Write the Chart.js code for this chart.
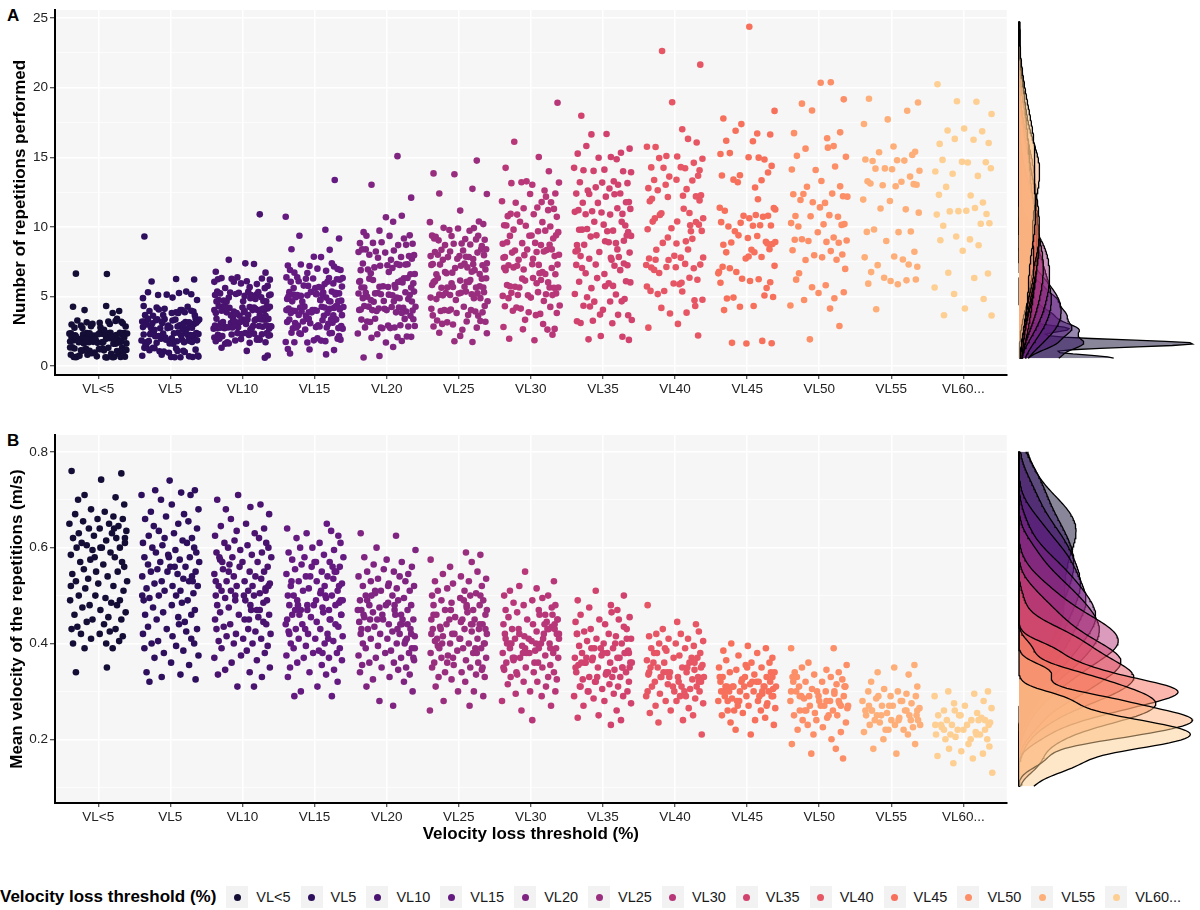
<!DOCTYPE html>
<html>
<head>
<meta charset="utf-8">
<script src="https://cdn.jsdelivr.net/npm/chart.js@4.4.1/dist/chart.umd.min.js"></script>
<style>
  body { margin: 0; background: #fff; width: 1200px; height: 910px; position: relative; overflow: hidden;
         font-family: "Liberation Sans", Arial, sans-serif; color: #1a1a1a; }
  canvas { position: absolute; }
  .tag { position: absolute; left: 7px; font-weight: bold; font-size: 17px; line-height: 17px; color: #000; }
  #legend { position: absolute; left: 0; top: 886px; height: 22px; width: 1300px; display: flex; align-items: center;
            font-size: 14.5px; white-space: nowrap; }
  #legend > * { flex-shrink: 0; }
  #legend .lt { font-weight: bold; font-size: 17px; color: #000; margin-right: 10px; }
  #legend .box { width: 22px; height: 22px; background: #f2f2f2; display: flex; align-items: center; justify-content: center; }
  #legend .dot { width: 7px; height: 7px; border-radius: 50%; }
  #legend .lab { margin-left: 8px; margin-right: 10px; }
</style>
</head>
<body>
<div class="tag" style="top:7px">A</div>
<div class="tag" style="top:432px">B</div>
<canvas id="repsChart" width="1010" height="400" style="left:0;top:0"></canvas>
<canvas id="repsDensity" width="188" height="400" style="left:1012px;top:0"></canvas>
<canvas id="velChart" width="1010" height="420" style="left:0;top:425px"></canvas>
<canvas id="velDensity" width="188" height="420" style="left:1012px;top:425px"></canvas>
<div id="legend"><span class="lt">Velocity loss threshold (%)</span></div>

<script>
const categories = ['VL<5', 'VL5', 'VL10', 'VL15', 'VL20', 'VL25', 'VL30', 'VL35', 'VL40', 'VL45', 'VL50', 'VL55', 'VL60...'];
const palette = ['#140E36', '#2E0F5D', '#49136F', '#641A80', '#7F2481', '#9A2E7E', '#B73779',
                 '#D1436E', '#E65664', '#F7705C', '#FC8F67', '#FEAF79', '#FECF92'];
const repsTicks = [0, 5, 10, 15, 20, 25];
const velTicks = [0.2, 0.4, 0.6, 0.8];

// jitter offsets (category units horizontally, reps vertically)
const jitter = [0.12,-0.31,0.37,-0.05,0.22,-0.38,0.03,0.29,-0.17,0.33,-0.26,0.08,-0.36,0.18,-0.09,0.39,-0.22,0.01,0.26,-0.33,
  0.14,-0.12,0.35,-0.29,0.06,0.31,-0.02,-0.39,0.2,-0.15,0.38,-0.24,0.1,-0.34,0.27,-0.07,0.16,-0.37,0.32,0.04,
  -0.19,0.24,-0.28,0.36,-0.1,0.09,-0.32,0.21,-0.01,0.34,-0.21,0.15,-0.4,0.28,-0.13,0.02,0.39,-0.27,0.19,-0.06,
  -0.35,0.25,0.11,-0.23,0.37,-0.16,0.05,-0.3,0.3,-0.08,0.17,-0.38,0.23,-0.11,0.33,-0.25,0.07,0.36,-0.2,-0.03,
  0.27,-0.36,0.13,-0.14,0.4,-0.31,0.0,0.21,-0.18,0.35,-0.04,-0.27,0.1,0.3,-0.39,0.18,-0.12,0.26,-0.22,0.03,
  0.38,-0.33,0.14,-0.08,0.32,-0.16,0.08,-0.29,0.24,-0.37,0.16,0.02,-0.24,0.34,-0.1,0.29,-0.35,0.11,-0.19,0.2];

// Panel A: number of repetitions performed (whole reps per set)
const repsVLlt5 = [1,1,1,1,1,1,1,1,1,1,1,1,1,1,1,1,1,1,1,1,1,1,1,1,1,1,1,1,1,1,1,1,1,1,
  2,2,2,2,2,2,2,2,2,2,2,2,2,2,2,2,2,2,2,2,2,2,2,2,2,2,2,2,2,2,2,2,2,2,2,
  2,2,2,2,2,2,2,2,2,2,2,2,2,2,2,2,2,2,2,2,2,2,2,2,2,2,2,2,
  3,3,3,3,3,3,3,3,3,3,3,3,3,3,3,3,3,3,4,4,4,4,4,7,7];
const repsVL5 = [1,1,1,1,1,1,1,1,1,1,1,1,1,1,1,1,1,1,1,1,1,1,
  2,2,2,2,2,2,2,2,2,2,2,2,2,2,2,2,2,2,2,2,2,2,2,2,2,2,2,2,2,2,2,2,2,2,2,2,
  3,3,3,3,3,3,3,3,3,3,3,3,3,3,3,3,3,3,3,3,3,3,3,3,3,3,3,3,3,3,3,3,3,
  4,4,4,4,4,4,4,4,4,4,4,4,4,4,4,4,4,4,5,5,5,5,5,5,5,5,5,6,6,6,9];
const repsVL10 = [1,1,1,1,2,2,2,2,2,2,2,2,2,2,2,2,2,2,2,2,2,2,2,2,2,2,2,2,2,
  3,3,3,3,3,3,3,3,3,3,3,3,3,3,3,3,3,3,3,3,3,3,3,3,3,3,3,3,3,3,3,3,3,3,3,
  4,4,4,4,4,4,4,4,4,4,4,4,4,4,4,4,4,4,4,4,4,4,4,4,4,4,4,4,4,4,
  5,5,5,5,5,5,5,5,5,5,5,5,5,5,5,5,5,5,5,5,5,5,5,5,5,
  6,6,6,6,6,6,6,6,6,6,6,6,6,6,6,7,7,7,7,8,11];
const repsVL15 = [1,1,1,1,1,2,2,2,2,2,2,2,2,2,2,2,2,2,2,2,
  3,3,3,3,3,3,3,3,3,3,3,3,3,3,3,3,3,3,3,3,3,3,3,3,3,
  4,4,4,4,4,4,4,4,4,4,4,4,4,4,4,4,4,4,4,4,4,4,4,4,4,4,4,4,
  5,5,5,5,5,5,5,5,5,5,5,5,5,5,5,5,5,5,5,5,5,5,5,5,5,5,5,
  6,6,6,6,6,6,6,6,6,6,6,6,6,6,6,6,6,6,6,6,7,7,7,7,7,7,7,7,7,7,7,7,
  8,8,8,8,9,9,10,11,13];
const repsVL20 = [1,1,1,2,2,2,2,2,2,2,2,3,3,3,3,3,3,3,3,3,3,3,3,3,3,3,
  4,4,4,4,4,4,4,4,4,4,4,4,4,4,4,4,4,4,5,5,5,5,5,5,5,5,5,5,5,5,5,5,5,5,5,5,5,5,
  6,6,6,6,6,6,6,6,6,6,6,6,6,6,6,6,6,6,7,7,7,7,7,7,7,7,7,7,7,7,7,7,7,
  8,8,8,8,8,8,8,8,8,8,8,8,8,9,9,9,9,9,9,9,9,9,9,10,10,10,11,11,12,13,15];
const repsVL25 = [2,2,2,2,2,3,3,3,3,3,3,3,3,3,3,4,4,4,4,4,4,4,4,4,4,4,4,4,4,
  5,5,5,5,5,5,5,5,5,5,5,5,5,5,5,5,6,6,6,6,6,6,6,6,6,6,6,6,6,6,6,6,6,6,
  7,7,7,7,7,7,7,7,7,7,7,7,7,7,7,7,7,7,8,8,8,8,8,8,8,8,8,8,8,8,8,8,8,8,8,
  9,9,9,9,9,9,9,9,9,9,9,9,9,9,10,10,10,10,10,10,10,10,11,12,12,13,14,14,15];
const repsVL30 = [2,2,2,3,3,3,3,3,3,4,4,4,4,4,4,4,4,4,4,5,5,5,5,5,5,5,5,5,5,5,
  6,6,6,6,6,6,6,6,6,6,6,6,6,7,7,7,7,7,7,7,7,7,7,7,7,7,7,8,8,8,8,8,8,8,8,8,8,8,8,8,8,
  9,9,9,9,9,9,9,9,9,9,9,10,10,10,10,10,10,10,10,10,10,11,11,11,11,11,11,11,11,11,
  12,12,12,12,12,12,12,13,13,13,13,13,13,14,14,15,16,19];
const repsVL35 = [2,2,2,2,3,3,3,3,3,4,4,4,4,4,4,5,5,5,5,5,5,5,6,6,6,6,6,6,6,6,
  7,7,7,7,7,7,7,7,7,8,8,8,8,8,8,8,8,8,8,9,9,9,9,9,9,9,9,9,9,10,10,10,10,10,10,10,10,10,10,
  11,11,11,11,11,11,11,11,11,12,12,12,12,12,12,12,12,12,13,13,13,13,13,13,13,13,
  14,14,14,14,14,14,15,15,15,15,15,16,16,17,17,18];
const repsVL40 = [23,22,19,16,17,16,16,16,15,15,15,15,15,14,14,14,14,14,14,13,13,13,13,13,13,12,12,12,12,12,
  11,11,11,10,10,10,10,10,10,10,9,10,8,8,8,8,8,8,7,7,7,7,7,7,7,7,6,6,6,6,
  6,5,5,5,5,5,5,4,4,3,2,3,4,9,11,12,9,6,12,10,8,14,11,9,7,4,13,9,11,8];
const repsVL45 = [24,18,18,17,17,17,17,16,16,15,15,15,15,15,14,14,14,14,13,13,13,11,11,11,11,11,11,11,11,10,
  10,10,10,10,10,10,9,9,9,9,9,9,9,9,8,8,8,8,7,8,7,7,7,8,7,6,6,6,6,6,
  6,5,5,5,5,4,4,4,2,2,2,2,12,7,9,13,8,11];
const repsVL50 = [20,20,19,19,18,17,17,16,16,16,16,15,15,14,14,14,13,13,13,12,12,12,12,12,12,12,12,11,11,11,
  11,11,10,10,10,10,10,10,9,9,9,9,9,9,9,8,8,8,8,8,8,8,7,7,6,6,6,5,5,5,
  5,4,4,3,2];
const repsVL55 = [19,19,18,18,17,16,15,15,15,15,15,15,15,14,14,14,14,14,13,13,13,13,13,13,13,12,12,11,11,11,
  10,10,10,10,9,8,8,8,8,7,7,7,7,6,6,6,6,6,6,4];
const repsVL60 = [20,19,19,18,17,17,17,16,16,16,16,15,15,15,15,14,14,14,14,13,12,12,12,11,11,11,11,11,11,10,
  10,10,9,9,9,9,8,7,7,6,6,5,5,4,4,4];

// Panel B: mean velocity of the repetitions (m/s)
const velVLlt5 = [0.76,0.755,0.742,0.71,0.705,0.70,0.69,0.68,0.675,0.67,0.665,0.66,0.66,0.655,0.65,0.65,0.645,0.64,0.64,0.635,0.63,0.63,0.625,0.62,0.62,0.615,0.61,0.61,0.605,0.60,
  0.60,0.60,0.595,0.59,0.585,0.58,0.575,0.57,0.57,0.565,0.56,0.555,0.55,0.55,0.545,0.54,0.535,0.53,0.53,0.525,0.52,0.515,0.51,0.50,0.50,0.495,0.49,0.49,0.485,0.48,
  0.48,0.475,0.47,0.465,0.46,0.455,0.45,0.45,0.445,0.44,0.435,0.43,0.43,0.425,0.42,0.42,0.415,0.41,0.405,0.40,0.40,0.39,0.39,0.35,0.34,0.62,0.58,0.64,0.52,0.60];
const velVL5 = [0.74,0.72,0.72,0.715,0.71,0.71,0.70,0.69,0.68,0.675,0.67,0.665,0.66,0.655,0.65,0.645,0.64,0.635,0.63,0.625,0.62,0.62,0.615,0.61,0.61,0.605,0.60,0.60,0.595,0.59,
  0.59,0.585,0.58,0.58,0.575,0.57,0.57,0.565,0.56,0.56,0.555,0.55,0.55,0.55,0.545,0.54,0.54,0.535,0.53,0.53,0.525,0.52,0.52,0.515,0.51,0.51,0.505,0.50,0.50,0.495,
  0.49,0.49,0.485,0.48,0.475,0.47,0.465,0.46,0.46,0.455,0.45,0.445,0.44,0.435,0.43,0.43,0.425,0.42,0.415,0.41,0.405,0.40,0.40,0.395,0.39,0.385,0.38,0.375,0.37,0.36,
  0.355,0.34,0.335,0.33,0.325,0.32,0.56,0.53,0.58,0.50];
const velVL10 = [0.71,0.70,0.69,0.685,0.68,0.67,0.66,0.65,0.645,0.64,0.635,0.63,0.625,0.62,0.615,0.61,0.61,0.605,0.60,0.60,0.595,0.59,0.59,0.585,0.58,0.58,0.575,0.57,0.57,0.565,
  0.56,0.56,0.555,0.55,0.55,0.545,0.54,0.54,0.535,0.53,0.53,0.525,0.52,0.52,0.52,0.515,0.51,0.51,0.51,0.505,0.50,0.50,0.50,0.495,0.49,0.49,0.485,0.48,0.48,0.475,
  0.47,0.47,0.465,0.46,0.46,0.455,0.45,0.45,0.445,0.44,0.44,0.435,0.43,0.43,0.425,0.42,0.42,0.415,0.41,0.41,0.405,0.40,0.40,0.395,0.39,0.385,0.38,0.375,0.37,0.365,
  0.36,0.35,0.345,0.34,0.335,0.33,0.31,0.31,0.53,0.51,0.49,0.55,0.47,0.57,0.52,0.50,0.45,0.58];
const velVL15 = [0.65,0.64,0.635,0.63,0.625,0.62,0.61,0.61,0.60,0.60,0.595,0.59,0.585,0.58,0.58,0.575,0.57,0.57,0.565,0.56,0.56,0.555,0.55,0.55,0.545,0.54,0.54,0.535,0.53,0.53,
  0.525,0.52,0.52,0.515,0.51,0.51,0.505,0.50,0.50,0.50,0.495,0.49,0.49,0.485,0.48,0.48,0.48,0.475,0.47,0.47,0.465,0.46,0.46,0.455,0.45,0.45,0.445,0.44,0.44,0.435,
  0.43,0.43,0.425,0.42,0.42,0.415,0.41,0.41,0.405,0.40,0.40,0.395,0.39,0.39,0.385,0.38,0.38,0.375,0.37,0.37,0.365,0.36,0.355,0.35,0.345,0.34,0.335,0.33,0.32,0.31,
  0.30,0.29,0.29,0.49,0.47,0.51,0.53,0.45,0.48,0.52,0.46,0.50,0.44,0.55,0.43,0.57,0.49,0.47,0.41,0.54,0.42,0.56,0.38,0.48,0.46];
const velVL20 = [0.63,0.625,0.60,0.595,0.58,0.575,0.57,0.565,0.56,0.555,0.55,0.55,0.545,0.54,0.54,0.535,0.53,0.53,0.525,0.52,0.52,0.515,0.51,0.51,0.505,0.50,0.50,0.495,0.49,0.49,
  0.485,0.48,0.48,0.475,0.47,0.47,0.47,0.465,0.46,0.46,0.455,0.45,0.45,0.45,0.445,0.44,0.44,0.435,0.43,0.43,0.425,0.42,0.42,0.42,0.415,0.41,0.41,0.405,0.40,0.40,
  0.395,0.39,0.39,0.385,0.38,0.38,0.375,0.37,0.37,0.365,0.36,0.36,0.355,0.35,0.35,0.345,0.34,0.335,0.33,0.325,0.32,0.31,0.30,0.28,0.27,0.46,0.44,0.48,0.42,0.50,
  0.43,0.47,0.41,0.45,0.52,0.39,0.49,0.44,0.46,0.43,0.40,0.48,0.45,0.37,0.51];
const velVL25 = [0.59,0.585,0.575,0.57,0.56,0.55,0.545,0.54,0.535,0.53,0.53,0.525,0.52,0.515,0.51,0.51,0.505,0.50,0.50,0.495,0.49,0.49,0.485,0.48,0.48,0.475,0.47,0.47,0.465,0.46,
  0.46,0.455,0.45,0.45,0.445,0.44,0.44,0.44,0.435,0.43,0.43,0.425,0.42,0.42,0.415,0.41,0.41,0.405,0.40,0.40,0.40,0.395,0.39,0.39,0.385,0.38,0.38,0.375,0.37,0.37,
  0.365,0.36,0.36,0.355,0.35,0.35,0.345,0.34,0.34,0.335,0.33,0.33,0.325,0.32,0.31,0.30,0.30,0.29,0.28,0.27,0.26,0.43,0.45,0.41,0.47,0.39,0.44,0.42,0.46,0.38,
  0.48,0.40,0.43,0.36,0.45,0.41,0.50,0.37,0.44,0.42,0.39,0.47,0.35,0.43,0.49,0.40];
const velVL30 = [0.55,0.53,0.52,0.515,0.51,0.50,0.50,0.495,0.49,0.485,0.48,0.48,0.475,0.47,0.47,0.465,0.46,0.46,0.455,0.45,0.45,0.445,0.44,0.44,0.435,0.43,0.43,0.43,0.425,0.42,
  0.42,0.415,0.41,0.41,0.405,0.40,0.40,0.40,0.395,0.39,0.39,0.385,0.38,0.38,0.38,0.375,0.37,0.37,0.365,0.36,0.36,0.355,0.35,0.35,0.345,0.34,0.34,0.335,0.33,0.33,
  0.325,0.32,0.32,0.315,0.31,0.30,0.30,0.295,0.29,0.28,0.27,0.26,0.24,0.42,0.40,0.44,0.38,0.41,0.43,0.39,0.37,0.45,0.42,0.36,0.40,0.46,0.39,0.41,0.35,0.43,
  0.38,0.44,0.37,0.40,0.42,0.34,0.41,0.39];
const velVL35 = [0.51,0.50,0.49,0.48,0.475,0.47,0.465,0.46,0.455,0.45,0.45,0.445,0.44,0.435,0.43,0.43,0.425,0.42,0.42,0.415,0.41,0.41,0.405,0.40,0.40,0.395,0.39,0.39,0.385,0.38,
  0.38,0.38,0.375,0.37,0.37,0.365,0.36,0.36,0.36,0.355,0.35,0.35,0.345,0.34,0.34,0.335,0.33,0.33,0.325,0.32,0.32,0.315,0.31,0.31,0.305,0.30,0.30,0.295,0.29,0.29,
  0.285,0.28,0.275,0.27,0.26,0.25,0.245,0.24,0.23,0.37,0.35,0.39,0.34,0.36,0.38,0.33,0.40,0.35,0.37,0.32,0.41,0.36,0.34,0.38,0.30,0.39,0.35,0.42,0.33,0.37,
  0.36,0.31,0.38];
const velVL40 = [0.48,0.445,0.44,0.43,0.425,0.42,0.42,0.415,0.41,0.41,0.405,0.40,0.40,0.395,0.39,0.39,0.385,0.38,0.38,0.375,0.37,0.37,0.365,0.36,0.36,0.355,0.35,0.35,0.35,0.345,
  0.34,0.34,0.335,0.33,0.33,0.33,0.325,0.32,0.32,0.315,0.31,0.31,0.305,0.30,0.30,0.295,0.29,0.29,0.285,0.28,0.28,0.275,0.27,0.265,0.26,0.255,0.25,0.24,0.235,0.21,
  0.34,0.32,0.36,0.31,0.33,0.35,0.30,0.37,0.34,0.32,0.38,0.29,0.35,0.33,0.31,0.36,0.34,0.30,0.39,0.33];
const velVL45 = [0.40,0.395,0.39,0.385,0.38,0.375,0.37,0.365,0.36,0.36,0.355,0.35,0.35,0.345,0.34,0.34,0.335,0.33,0.33,0.325,0.32,0.32,0.32,0.315,0.31,0.31,0.31,0.305,0.30,0.30,
  0.30,0.295,0.29,0.29,0.285,0.28,0.28,0.275,0.27,0.27,0.265,0.26,0.26,0.255,0.25,0.245,0.24,0.235,0.23,0.22,0.21,0.31,0.30,0.32,0.29,0.33,0.31,0.28,0.34,0.30,
  0.32,0.29,0.31,0.33,0.27,0.30,0.32,0.28,0.31,0.29,0.35,0.30,0.26,0.33,0.31,0.28];
const velVL50 = [0.39,0.39,0.36,0.355,0.35,0.345,0.34,0.34,0.335,0.33,0.33,0.325,0.32,0.32,0.315,0.31,0.31,0.305,0.30,0.30,0.295,0.29,0.29,0.285,0.28,0.28,0.275,0.27,0.27,0.265,
  0.26,0.26,0.255,0.25,0.25,0.245,0.24,0.235,0.23,0.225,0.22,0.215,0.21,0.20,0.19,0.18,0.17,0.16,0.29,0.27,0.31,0.26,0.30,0.28,0.32,0.25,0.29,0.27,0.33,0.28,
  0.30,0.26,0.31,0.24,0.29,0.28,0.27,0.30];
const velVL55 = [0.355,0.35,0.34,0.335,0.32,0.31,0.305,0.30,0.30,0.295,0.29,0.29,0.285,0.28,0.28,0.275,0.27,0.27,0.265,0.26,0.26,0.255,0.25,0.25,0.245,0.24,0.24,0.235,0.23,0.23,
  0.225,0.22,0.22,0.215,0.21,0.20,0.19,0.18,0.17,0.26,0.25,0.27,0.24,0.26,0.28,0.25,0.23,0.27,0.24,0.26,0.29,0.25,0.22,0.26,0.24];
const velVL60 = [0.30,0.30,0.295,0.29,0.28,0.275,0.27,0.265,0.26,0.255,0.25,0.25,0.245,0.24,0.24,0.235,0.23,0.23,0.225,0.22,0.22,0.215,0.21,0.21,0.205,0.20,0.20,0.19,0.185,0.18,
  0.175,0.17,0.165,0.16,0.15,0.13,0.23,0.22,0.24,0.21,0.23,0.25,0.22,0.20,0.24,0.23,0.21,0.26];

const repsGroups = [repsVLlt5, repsVL5, repsVL10, repsVL15, repsVL20, repsVL25, repsVL30, repsVL35, repsVL40, repsVL45, repsVL50, repsVL55, repsVL60];
const velGroups = [velVLlt5, velVL5, velVL10, velVL15, velVL20, velVL25, velVL30, velVL35, velVL40, velVL45, velVL50, velVL55, velVL60];

const FONT = '"Liberation Sans", Arial, sans-serif';
Chart.defaults.font.family = FONT;
Chart.defaults.color = '#222';

const panelBg = {
  id: 'panelBg',
  beforeDraw(chart) {
    const a = chart.chartArea, ctx = chart.ctx;
    ctx.save();
    ctx.fillStyle = '#f6f6f6';
    ctx.fillRect(a.left, a.top, a.right - a.left, a.bottom - a.top);
    ctx.restore();
  }
};

// jittered points: x always, y only for whole-number reps
function scatterSets(groups, off, yJit) {
  const J = jitter.length;
  return groups.map((vals, c) => ({
    label: categories[c],
    data: vals.map((v, i) => ({
      x: c + 1 + jitter[(i + c * 11 + off) % J],
      y: yJit ? v + jitter[(i * 7 + c * 13 + 5) % J] : v
    })),
    backgroundColor: palette[c],
    borderWidth: 0,
    pointRadius: 3.3,
    pointHoverRadius: 3.3
  }));
}

function yAxis(majors, title, titlePad, min, max) {
  const step = majors[1] - majors[0];
  const minors = majors.map(m => m - step / 2).concat([majors[majors.length - 1] + step / 2]).filter(v => v > min && v < max);
  const isMajor = v => majors.some(m => Math.abs(m - v) < 1e-9);
  return {
    type: 'linear', min, max,
    afterBuildTicks: s => { s.ticks = majors.concat(minors).sort((a, b) => a - b).map(v => ({ value: v })); },
    afterFit: s => { s.width = 55; },
    ticks: { callback: v => isMajor(v) ? String(+v.toFixed(2)) : '', font: { size: 13.5 }, color: '#222', padding: 2 },
    grid: {
      color: '#ffffff',
      lineWidth: ctx => isMajor(ctx.tick.value) ? 1.5 : 0.7,
      tickColor: ctx => isMajor(ctx.tick.value) ? '#222' : 'rgba(0,0,0,0)',
      tickLength: 5, tickWidth: 1
    },
    border: { color: '#000', width: 2 },
    title: { display: true, text: title, font: { size: 17, weight: 'bold' }, color: '#000', padding: { top: titlePad, bottom: 0 } }
  };
}

function xAxis(height, title) {
  return {
    type: 'linear', min: 0.4, max: categories.length + 0.6,
    afterBuildTicks: s => { s.ticks = categories.map((c, i) => ({ value: i + 1 })); },
    afterFit: s => { s.height = height; },
    ticks: { callback: v => categories[v - 1], font: { size: 13.5 }, color: '#222', autoSkip: false, maxRotation: 0, padding: 2 },
    grid: { color: '#ffffff', lineWidth: 1.5, tickColor: '#222', tickLength: 4, tickWidth: 1 },
    border: { color: '#000', width: 2 },
    title: title ? { display: true, text: title, font: { size: 17, weight: 'bold' }, color: '#000', padding: { top: 0, bottom: 0 } } : { display: false }
  };
}

function mainChart(id, groups, off, yJit, padTop, xh, xTitle, majors, yTitle, titlePad, ymin, ymax) {
  return new Chart(document.getElementById(id), {
    type: 'scatter',
    data: { datasets: scatterSets(groups, off, yJit) },
    options: {
      responsive: false, animation: false, devicePixelRatio: 1,
      layout: { padding: { top: padTop, right: 3, left: 0, bottom: 0 } },
      events: [],
      plugins: { legend: { display: false }, tooltip: { enabled: false } },
      scales: { x: xAxis(xh, xTitle), y: yAxis(majors, yTitle, titlePad, ymin, ymax) }
    },
    plugins: [panelBg]
  });
}

mainChart('repsChart', repsGroups, 0, true, 5, 25, null, repsTicks, 'Number of repetitions performed', 10, -0.64, 25.57);
mainChart('velChart', velGroups, 37, false, 10, 42, 'Velocity loss threshold (%)', velTicks, 'Mean velocity of the repetitions (m/s)', 7, 0.067, 0.835);

// marginal densities (Gaussian kernel, nrd0 bandwidth)
function bwNrd0(v) {
  const n = v.length, m = v.reduce((a, b) => a + b, 0) / n;
  const sd = Math.sqrt(v.reduce((a, b) => a + (b - m) * (b - m), 0) / (n - 1));
  const s = [...v].sort((a, b) => a - b);
  const q = p => { const h = (n - 1) * p, lo = Math.floor(h); return s[lo] + (h - lo) * (s[Math.min(lo + 1, n - 1)] - s[lo]); };
  const lo = Math.min(sd, (q(0.75) - q(0.25)) / 1.34);
  return 0.9 * lo * Math.pow(n, -0.2);
}
function kde(v, grid) {
  const bw = bwNrd0(v), k = 1 / (v.length * bw * Math.sqrt(2 * Math.PI));
  return grid.map(y => { let s = 0; for (const x of v) { const z = (y - x) / bw; s += Math.exp(-0.5 * z * z); } return s * k; });
}
function hexA(hex, a) {
  const n = parseInt(hex.slice(1), 16);
  return `rgba(${n >> 16},${(n >> 8) & 255},${n & 255},${a})`;
}

function densityChart(id, groups, padTop, padBottom) {
  const all = groups.flat();
  const gmin = Math.min(...all), gmax = Math.max(...all), span = gmax - gmin;
  const grid = Array.from({ length: 240 }, (_, j) => gmin + span * j / 239);
  const dens = groups.map(g => kde(g, grid));
  const dmax = Math.max(...dens.flat());
  const datasets = dens.map((d, c) => ({
    data: grid.map((y, j) => ({ x: d[j], y })),
    pointRadius: 0, tension: 0, fill: 'origin', clip: false,
    order: categories.length - c,
    backgroundColor: hexA(palette[c], 0.5), borderColor: '#000', borderWidth: 1.3
  }));
  return new Chart(document.getElementById(id), {
    type: 'line',
    data: { datasets },
    options: {
      indexAxis: 'y',
      responsive: false, animation: false, devicePixelRatio: 1, events: [],
      layout: { padding: { left: 7, right: 4, top: padTop, bottom: padBottom } },
      plugins: { legend: { display: false }, tooltip: { enabled: false } },
      scales: {
        x: { type: 'linear', min: 0, max: dmax * 1.02, display: false },
        y: { type: 'linear', min: gmin - 0.05 * span, max: gmax + 0.05 * span, display: false }
      }
    }
  });
}
densityChart('repsDensity', repsGroups, 5, 25);
densityChart('velDensity', velGroups, 10, 42);

// legend
const legend = document.getElementById('legend');
categories.forEach((c, i) => {
  const box = document.createElement('span');
  box.className = 'box';
  box.innerHTML = `<span class="dot" style="background:${palette[i]}"></span>`;
  const lab = document.createElement('span');
  lab.className = 'lab';
  lab.textContent = c;
  legend.appendChild(box);
  legend.appendChild(lab);
});
</script>
</body>
</html>
